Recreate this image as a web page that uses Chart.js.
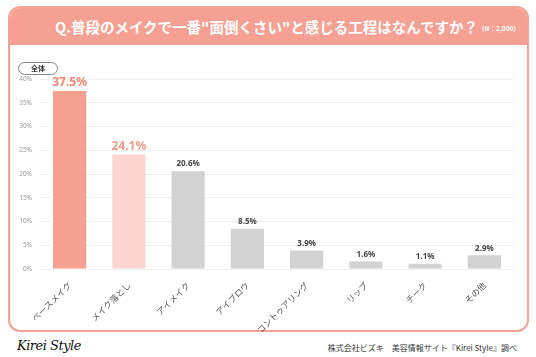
<!DOCTYPE html>
<html><head><meta charset="utf-8">
<script src="https://cdn.jsdelivr.net/npm/chart.js@4"></script>
<style>
html,body{margin:0;padding:0;background:#fff;width:536px;height:357px;overflow:hidden;font-family:"Noto Sans CJK JP","Noto Sans",sans-serif;}
#card{position:absolute;left:8px;top:6px;width:517px;height:322px;border:2px solid #f5a294;border-radius:12px;background:#fff;overflow:hidden;}
#head{position:absolute;left:0;top:0;width:100%;height:37px;background:#f5a093;}
#title{position:absolute;left:45px;top:8px;color:#fff;font-weight:bold;font-size:14.5px;white-space:nowrap;letter-spacing:0px;}
#title small{font-size:6.5px;font-weight:bold;margin-left:0px;vertical-align:2px;}
#pill{position:absolute;left:18px;top:62px;width:38px;height:11px;border:1px solid #888;border-radius:7px;font-size:7px;font-weight:bold;color:#333;text-align:center;line-height:11px;background:#fff;}
#wrap{position:absolute;left:10px;top:60px;width:512px;height:272px;}
#logo{position:absolute;left:17px;top:338px;font-family:"DejaVu Serif",serif;font-style:italic;font-size:13px;color:#111;letter-spacing:-0.5px;}
#src{position:absolute;right:19px;top:342px;font-size:8px;color:#333;white-space:nowrap;}
</style></head>
<body>
<div id="card"><div id="head"><div id="title">Q.普段のメイクで一番"面倒くさい"と感じる工程はなんですか？<small>（N：2,000）</small></div></div></div>
<div id="wrap"><canvas id="c" width="512" height="272"></canvas></div>
<div id="pill">全体</div>
<div id="logo">Kirei Style</div>
<div id="src">株式会社ビズキ　美容情報サイト『Kirei Style』調べ</div>
<script>
const categories = ["ベースメイク","メイク落とし","アイメイク","アイブロウ","コントゥアリング","リップ","チーク","その他"];
const values = [37.5, 24.1, 20.6, 8.5, 3.9, 1.6, 1.1, 2.9];
const yTicks = [0,5,10,15,20,25,30,35,40];

const valueLabels = {
  id:'valueLabels',
  afterDatasetsDraw(chart){
    const ctx = chart.ctx;
    const meta = chart.getDatasetMeta(0);
    meta.data.forEach((bar,i)=>{
      const big = i < 2;
      ctx.save();
      ctx.textAlign='center';
      ctx.textBaseline='bottom';
      ctx.font = big ? 'bold 12px "Noto Sans", sans-serif' : 'bold 8px "Noto Sans", sans-serif';
      ctx.fillStyle = big ? (i===0 ? '#f08674' : '#f29a88') : '#444';
      ctx.fillText(values[i].toFixed(1)+'%', bar.x, bar.y - (big?2:3));
      ctx.restore();
    });
  }
};

new Chart(document.getElementById('c'), {
  type:'bar',
  data:{labels:categories,datasets:[{data:values,
    backgroundColor:values.map((v,i)=> i===0?'#f6a090': i===1?'#fbd5cf':'#d2d2d2'),
    barPercentage:0.56, categoryPercentage:1}]},
  options:{
    responsive:false, animation:false,
    layout:{padding:{top:19,right:8,left:0,bottom:0}},
    plugins:{legend:{display:false},tooltip:{enabled:false}},
    scales:{
      x:{
        grid:{display:false},
        border:{display:false},
        ticks:{minRotation:45,maxRotation:45,color:'#555',font:{size:8.5,family:'"Noto Sans CJK JP", sans-serif'},padding:3},
        afterFit(s){s.height=63;}
      },
      y:{
        min:0,max:40,
        afterBuildTicks(s){s.ticks = yTicks.map(v=>({value:v}));},
        grid:{color:'#efefef',drawTicks:false},
        border:{display:false},
        ticks:{color:'#999',font:{size:6.5,family:'"Noto Sans", sans-serif'},padding:8,callback:v=>v+'%'},
        afterFit(s){s.width=30;}
      }
    }
  },
  plugins:[valueLabels]
});
</script>
</body></html>
